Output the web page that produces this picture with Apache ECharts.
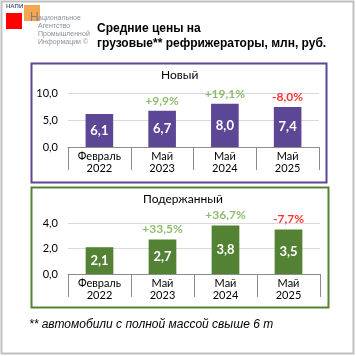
<!DOCTYPE html>
<html><head><meta charset="utf-8">
<script src="https://cdn.jsdelivr.net/npm/echarts@6/dist/echarts.min.js"></script>
<style>html,body{margin:0;padding:0;background:#fff}#c{width:356px;height:356px}</style>
</head><body><div id="c"></div>
<script>
var categories = ['Февраль\n2022', 'Май\n2023', 'Май\n2024', 'Май\n2025'];
var newValues = [6.1, 6.7, 8.0, 7.4];
var newChanges = ['', '+9,9%', '+19,1%', '-8,0%'];
var usedValues = [2.1, 2.7, 3.8, 3.5];
var usedChanges = ['', '+33,5%', '+36,7%', '-7,7%'];
var newTicks = {min: 0, max: 10, interval: 5};
var usedTicks = {min: 0, max: 4, interval: 2};

var lf = 'Lato, "Open Sans", sans-serif';
function comma(v){ return v.toFixed(1).replace('.', ','); }
function pctColor(s){ return s.charAt(0) === '-' ? '#FF0000' : '#70AD47'; }

function xAx(gi){
  return {type:'category', gridIndex:gi, data:categories,
    axisLine:{show:true, lineStyle:{color:'#8c8c8c', width:1}},
    axisTick:{show:true, length:23, lineStyle:{color:'#8c8c8c'}},
    axisLabel:{color:'#000', fontFamily:lf, fontSize:11, lineHeight:12, margin:3}};
}
function yAx(gi, t){
  return {type:'value', gridIndex:gi, min:t.min, max:t.max, interval:t.interval,
    axisLine:{show:false}, axisTick:{show:false},
    splitLine:{lineStyle:{color:'#d9d9d9'}},
    axisLabel:{color:'#000', fontFamily:lf, fontSize:11, margin:10, formatter:function(v){return comma(v);}}};
}
function barSeries(gi, vals, color){
  return {type:'bar', xAxisIndex:gi, yAxisIndex:gi, data:vals, barWidth:'44%',
    itemStyle:{color:color},
    label:{show:true, position:'inside', color:'#fff', fontFamily:lf, fontWeight:'bold', fontSize:13,
      formatter:function(p){return comma(p.value);}}};
}
function pctSeries(gi, vals, pcts){
  return {type:'scatter', xAxisIndex:gi, yAxisIndex:gi, symbolSize:0, silent:true,
    data: vals.map(function(v,i){return {value:v, label:{color:pctColor(pcts[i])}};}),
    label:{show:true, position:'top', distance:4, fontFamily:lf, fontWeight:'bold', fontSize:12,
      formatter:function(p){return pcts[p.dataIndex];}}};
}

var chart = echarts.init(document.getElementById('c'));
chart.setOption({
  animation:false,
  grid:[{left:68, right:37, top:93, height:54},
        {left:68, right:36, top:223, height:51}],
  xAxis:[xAx(0), xAx(1)],
  yAxis:[yAx(0,newTicks), yAx(1,usedTicks)],
  series:[barSeries(0,newValues,'#5B4796'), pctSeries(0,newValues,newChanges),
          barSeries(1,usedValues,'#548235'), pctSeries(1,usedValues,usedChanges)],
  graphic:[
    {type:'rect', shape:{x:1.5, y:1.5, width:352, height:352}, style:{fill:null, stroke:'#bfbfbf', lineWidth:2}, z:-10},
    {type:'rect', shape:{x:31.5, y:63.5, width:295, height:119}, style:{fill:null, stroke:'#5B4796', lineWidth:2}},
    {type:'rect', shape:{x:31.5, y:187.5, width:297, height:120}, style:{fill:null, stroke:'#548235', lineWidth:2}},
    {type:'text', top:69, left:161, style:{text:'Новый', font:'12px '+lf, fill:'#000'}},
    {type:'text', top:193, left:143, style:{text:'Подержанный', font:'12px '+lf, fill:'#000'}},
    {type:'text', left:97, top:21, style:{text:'Средние цены на\nгрузовые** рефрижераторы, млн, руб.', font:'bold 12px "Liberation Sans", Arial, sans-serif', lineHeight:15, fill:'#000'}},
    {type:'text', left:29, top:319, style:{text:'** автомобили с полной массой свыше 6 т', font:'italic 12px "Liberation Sans", Arial, sans-serif', fill:'#000'}},
    {type:'rect', shape:{x:6, y:13, width:16, height:16}, style:{fill:'#FF0000'}},
    {type:'rect', shape:{x:24, y:5, width:16, height:16}, style:{fill:'rgba(244,150,50,0.85)'}},
    {type:'text', left:6, top:3, style:{text:'НАПИ', font:'bold 6px "Liberation Sans", sans-serif', fill:'#4a5a8a'}},
    {type:'text', left:30, top:12, style:{text:'Н', font:'12px "Liberation Sans", sans-serif', fill:'#808080'}},
    {type:'text', left:38, top:14, style:{text:'ациональное\nАгентство\nПромышленной\nИнформации ©', font:'7px "Liberation Sans", sans-serif', lineHeight:8, fill:'#8a8f9a'}}
  ]
});
</script></body></html>
